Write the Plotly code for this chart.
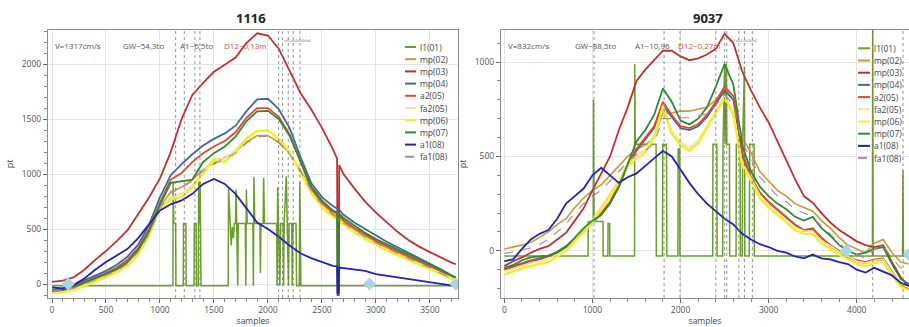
import plotly.graph_objects as go

# ---------------- data: left panel (1116) ----------------
X_L = [0, 100, 200, 300, 400, 500, 600, 700, 800, 900, 1000, 1100, 1200, 1300, 1400, 1500,
       1600, 1700, 1800, 1900, 2000, 2100, 2200, 2300, 2400, 2500, 2600, 2640, 2645, 2655,
       2660, 2700, 2800, 2900, 3000, 3100, 3200, 3300, 3400, 3500, 3600, 3700, 3740]

L_mp02 = [-60, -55, -35, 0, 40, 80, 125, 190, 300, 460, 700, 840, 880, 950, 1040, 1100, 1150, 1200,
          1290, 1350, 1350, 1290, 1190, 1040, 860, 730, 640, 615, 610, 605, 600, 565, 495, 435, 380,
          330, 285, 240, 200, 155, 105, 55, 40]
L_mp03 = [20, 30, 60, 130, 220, 300, 390, 490, 640, 790, 960, 1200, 1500, 1720, 1830, 1930, 1995,
          2060, 2190, 2280, 2260, 2140, 1940, 1740, 1590, 1420, 1230, 1140, -100, -100, 1080, 1000,
          870, 750, 650, 560, 475, 400, 340, 290, 240, 195, 180]
L_mp04 = [-50, -40, -10, 35, 75, 120, 175, 250, 360, 540, 790, 990, 1090, 1180, 1260, 1320, 1370,
          1440, 1570, 1680, 1685, 1590, 1420, 1160, 920, 790, 710, 690, 685, 680, 675, 630, 560, 500,
          440, 385, 335, 285, 240, 190, 135, 80, 60]
L_a205 = [-55, -45, -20, 20, 60, 100, 150, 220, 330, 500, 740, 950, 1010, 1110, 1190, 1250, 1300,
          1380, 1510, 1600, 1600, 1520, 1360, 1110, 870, 740, 660, 640, 635, 630, 625, 580, 510, 450,
          395, 345, 300, 255, 210, 165, 115, 65, 50]
L_fa205 = [-70, -65, -45, -10, 30, 70, 115, 180, 290, 460, 700, 790, 820, 900, 1030, 1140, 1140,
           1220, 1330, 1395, 1400, 1330, 1210, 1030, 840, 710, 620, 600, 595, 590, 585, 550, 480, 420,
           365, 315, 270, 230, 190, 145, 100, 55, 40]
L_mp06 = [-80, -75, -55, -20, 20, 60, 105, 165, 270, 440, 690, 770, 790, 880, 1010, 1130, 1110,
          1200, 1320, 1390, 1395, 1320, 1200, 1020, 830, 700, 610, 590, 585, 580, 575, 540, 470, 410,
          355, 305, 260, 220, 180, 135, 90, 45, 30]
L_mp07 = [-65, -55, -30, 10, 50, 90, 135, 200, 310, 480, 720, 920, 935, 950, 1110, 1190, 1250, 1340,
          1480, 1570, 1575, 1500, 1350, 1120, 890, 760, 670, 650, -80, -80, 640, 600, 530, 465, 410,
          360, 315, 270, 225, 180, 130, 75, 60]
L_a108 = [-30, -40, -10, 50, 130, 200, 260, 320, 420, 540, 670, 725, 760, 820, 910, 955, 910, 820,
          690, 560, 500, 430, 350, 280, 235, 200, 165, 160, -80, -80, 150, 145, 130, 120, 90, 75, 60,
          45, 30, 15, 0, -15, -20]
L_fa108 = [-62, -57, -37, -2, 38, 78, 122, 185, 295, 455, 690, 830, 870, 940, 1030, 1090, 1140, 1190,
           1280, 1340, 1345, 1285, 1180, 1030, 850, 720, 630, 605, 600, 595, 590, 555, 488, 428, 373,
           323, 278, 233, 193, 148, 98, 48, 35]

L1_X_L = [0, 1120, 1122, 1128, 1145, 1148, 1215, 1218, 1240, 1243, 1315, 1318, 1335, 1338, 1355, 1358,
          1365, 1372, 1380, 1632, 1635, 1650, 1660, 1670, 1680, 1690, 1700, 1705, 1712, 1720, 1725,
          1790, 1795, 1800, 1808, 1860, 1865, 1870, 1878, 1925, 1930, 1935, 1955, 1960, 1968, 2080,
          2085, 2090, 2098, 2110, 2118, 2140, 2145, 2150, 2170, 2178, 2190, 2196, 2220, 2225, 2232,
          2260, 2265, 2290, 2295, 2305, 3760]
L1_Y_L = [-15, -15, 930, 550, 550, -15, -15, 550, 550, -15, -15, 550, 550, -15, -15, 930,
          550, 930, -15, -15, 880, 550, 350, 520, 420, 550, 550, 860, 550, -15, 550,
          550, -15, 860, 550, 550, -15, 975, 550, 550, 100, 550, 550, 965, 550, 550,
          -15, 880, 550, -15, 550, 550, -15, 550, 980, 550, -15, 550, 550, -15, 550,
          550, -15, -15, 930, -15, -15]

VLINES_L = [1145, 1225, 1324, 1370, 2099, 2136, 2188, 2234, 2296]
DIAM_X_L = [150, 2940, 3740]
DIAM_Y_L = [0, 0, 0]

# ---------------- data: right panel (9037) ----------------
X_R = [0, 100, 200, 300, 400, 500, 600, 700, 800, 900, 1000, 1100, 1200, 1300, 1400, 1500, 1600,
       1700, 1800, 1900, 2000, 2100, 2200, 2300, 2400, 2500, 2600, 2700, 2800, 2900, 3000, 3100,
       3200, 3300, 3400, 3500, 3600, 3700, 3800, 3900, 4000, 4100, 4200, 4300, 4400, 4500, 4590]

R_mp02 = [10, 20, 30, 45, 70, 100, 140, 170, 230, 280, 320, 350, 400, 450, 500, 540, 560, 600, 730,
          730, 740, 740, 750, 760, 800, 860, 800, 600, 520, 420, 370, 320, 290, 250, 230, 210, 160,
          120, 70, 30, 10, -10, 40, 60, -10, -60, -70]
R_mp03 = [-80, -55, -35, -10, 10, 25, 60, 95, 160, 225, 320, 410, 500, 640, 760, 900, 960, 1010, 1060,
          1060, 1030, 1010, 1020, 1040, 1070, 1150, 1100, 950, 850, 760, 680, 580, 480, 380, 290, 255,
          200, 150, 110, 80, 50, 30, 20, 30, -60, -140, -190]
R_mp04 = [-95, -80, -65, -50, -40, -25, -5, 25, 65, 105, 150, 195, 255, 340, 450, 530, 590, 650, 770,
          710, 650, 640, 660, 710, 780, 850, 800, 510, 385, 305, 255, 215, 175, 135, 105, 115, 65, 25,
          -5, -35, -55, -65, -50, -45, -115, -185, -205]
R_a205 = [-100, -85, -70, -55, -45, -30, -10, 20, 60, 100, 150, 200, 260, 350, 460, 540, 600, 660, 790,
          720, 660, 650, 670, 720, 790, 870, 820, 520, 390, 310, 260, 220, 180, 140, 110, 120, 70, 30,
          0, -30, -50, -60, -45, -40, -110, -180, -200]
R_fa205 = [-110, -95, -80, -65, -55, -45, -15, 15, 65, 115, 165, 235, 305, 375, 465, 505, 535, 615,
           770, 635, 575, 545, 585, 665, 745, 820, 735, 465, 385, 295, 245, 205, 165, 125, 105, 105, 55,
           25, -5, -30, -55, -65, -50, -45, -115, -175, -195]
R_mp06 = [-125, -110, -95, -80, -70, -60, -30, 0, 50, 100, 150, 220, 290, 360, 450, 490, 520, 600, 760,
          620, 560, 530, 570, 650, 730, 810, 720, 450, 370, 280, 230, 190, 150, 110, 90, 90, 40, 10,
          -20, -45, -70, -80, -65, -60, -130, -190, -210]
R_mp07 = [-90, -75, -50, -35, -30, -27, -10, 20, 70, 120, 160, 190, 250, 340, 460, 580, 640, 720, 860,
          790, 690, 670, 700, 760, 870, 990, 880, 560, 420, 340, 290, 250, 220, 180, 160, 180, 120, 80,
          30, 0, -20, -10, 10, 20, -70, -150, -175]
R_a108 = [-55, -45, 10, 60, 90, 110, 170, 250, 290, 330, 400, 440, 400, 360, 390, 410, 450, 490, 530,
          500, 430, 360, 300, 250, 210, 170, 140, 90, 60, 35, 20, 0, -10, -30, -40, -20, -40, -45, -60,
          -70, -100, -115, -90, -110, -130, -170, -185]
R_fa108 = [-15, -5, 5, 15, 35, 60, 100, 140, 200, 250, 290, 320, 370, 420, 470, 510, 530, 570, 700,
           700, 705, 705, 715, 725, 770, 830, 770, 570, 490, 390, 340, 290, 260, 220, 200, 180, 130,
           90, 40, 0, -20, -40, 10, 30, -40, -90, -100]

L1_X_R = [0, 950, 952, 1010, 1012, 1018, 1120, 1122, 1175, 1177, 1195, 1197, 1478, 1480, 1486, 1722,
          1725, 1795, 1798, 1812, 1815, 1840, 1845, 1970, 1973, 1990, 1993, 2365, 2368, 2412, 2415,
          2478, 2482, 2500, 2505, 2520, 2525, 2555, 2558, 2630, 2633, 2676, 2679, 2700, 2705, 2725,
          2730, 2780, 2785, 2835, 2838, 4178, 4181, 4186, 4520, 4525, 4530, 4600]
L1_Y_R = [-27, -27, 155, 155, 800, 155, 155, -27, -27, 145, 145, -27, -27, 990, 565, 565,
          -27, -27, 565, 565, 560, 565, -27, -27, 540, 540, -27, -27, 565, 565, -27,
          -27, 565, 990, 565, 990, 565, 565, -27, -27, 565, 565, -27, -27, 565, 975,
          -27, -27, 565, 565, -27, -27, 1200, -27, -27, 425, -27, -27]

VLINES_R = [1018, 1813, 1994, 2400, 2500, 2525, 2661, 2725, 2815, 4181, 4525]
DIAM_X_R = [3880, 4590]
DIAM_Y_R = [0, -20]

NAMES = ["l1(01)", "mp(02)", "mp(03)", "mp(04)", "a2(05)", "fa2(05)", "mp(06)", "mp(07)", "a1(08)", "fa1(08)"]
COLORS = ["#6c9e2e", "#c99a38", "#c0302e", "#3f6a98", "#e0472f", "#f3e3a0", "#f2ee2a", "#2e8a32", "#2222b4", "#a48ca8"]
WIDTHS = [1.5, 1.6, 1.8, 1.8, 1.8, 1.6, 2.4, 1.8, 1.8, 1.2]

LEFT_SERIES = [(L1_X_L, L1_Y_L), (X_L, L_mp02), (X_L, L_mp03), (X_L, L_mp04), (X_L, L_a205),
               (X_L, L_fa205), (X_L, L_mp06), (X_L, L_mp07), (X_L, L_a108), (X_L, L_fa108)]
RIGHT_SERIES = [(L1_X_R, L1_Y_R), (X_R, R_mp02), (X_R, R_mp03), (X_R, R_mp04), (X_R, R_a205),
                (X_R, R_fa205), (X_R, R_mp06), (X_R, R_mp07), (X_R, R_a108), (X_R, R_fa108)]

W, H = 909, 327
FONT = "Open Sans"

fig = go.Figure()

def add_panel(series, xa, ya):
    for i, (xs, ys) in enumerate(series):
        fig.add_trace(go.Scatter(
            x=xs, y=ys, mode="lines", name=NAMES[i], showlegend=False,
            line=dict(color=COLORS[i], width=WIDTHS[i], dash="dash" if i == 9 else "solid"),
            xaxis=xa, yaxis=ya, hoverinfo="skip"))

add_panel(LEFT_SERIES, "x", "y")
add_panel(RIGHT_SERIES, "x2", "y2")

fig.add_trace(go.Scatter(x=DIAM_X_L, y=DIAM_Y_L, mode="markers", showlegend=False, hoverinfo="skip",
                         marker=dict(symbol="diamond", size=10, color="#a6d6e8"), xaxis="x", yaxis="y"))
fig.add_trace(go.Scatter(x=DIAM_X_R, y=DIAM_Y_R, mode="markers", showlegend=False, hoverinfo="skip",
                         marker=dict(symbol="diamond", size=10, color="#a6d6e8"), xaxis="x2", yaxis="y2"))

shapes = []
for v in VLINES_L:
    shapes.append(dict(type="line", xref="x", yref="y domain", x0=v, x1=v, y0=0, y1=1,
                       line=dict(color="#777", width=0.8, dash="dot")))
for v in VLINES_R:
    shapes.append(dict(type="line", xref="x2", yref="y2 domain", x0=v, x1=v, y0=0, y1=1,
                       line=dict(color="#777", width=0.8, dash="dot")))

annotations = []
def px(x): return x / W
def py(y): return 1 - y / H

def text(x, y, t, size, color, xanchor="center", bold=False):
    annotations.append(dict(x=px(x), y=py(y), xref="paper", yref="paper",
                            text=f"<b>{t}</b>" if bold else t, showarrow=False,
                            xanchor=xanchor, yanchor="middle",
                            font=dict(family=FONT, size=size, color=color)))

# manual legends
def legend(x_line0, x_line1, x_text, y0, step):
    for i, n in enumerate(NAMES):
        yy = y0 + i * step
        shapes.append(dict(type="line", xref="paper", yref="paper", x0=px(x_line0), x1=px(x_line1),
                           y0=py(yy), y1=py(yy),
                           line=dict(color=COLORS[i], width=2, dash="dash" if i == 9 else "solid")))
        text(x_text, yy, n, 8.5, "#444", xanchor="left")

legend(405, 416, 418, 47, 12.2)
legend(858, 870, 872, 48.3, 12.2)

# titles
text(251, 18, "1116", 13, "#222", bold=True)
text(708, 18, "9037", 13, "#222", bold=True)

# info texts
INFO_L = [("V=1317cm/s", 78, "#555"), ("GW~54,3to", 143, "#555"), ("A1~6,5to", 196, "#555"),
          ("D12~0,13m", 245, "#d04a4a")]
INFO_R = [("V=832cm/s", 528, "#555"), ("GW~88,5to", 595, "#555"), ("A1~10,96", 652, "#555"),
          ("D12~0,27m", 699, "#d04a4a")]
for t, xx, c in INFO_L + INFO_R:
    text(xx, 45, t, 8, c)
text(297, 41, "ch1ch2ch3ch4", 4, "#666")
text(743, 41, "ch1ch2 ch3ch4", 4, "#666")

ydom = [py(298), py(30)]
axis_common = dict(showline=True, mirror=True, linecolor="#8c8c8c", linewidth=1.2,
                   showgrid=True, gridcolor="#e4e4e4", gridwidth=1, zeroline=False,
                   ticks="outside", ticklen=4, tickcolor="#666", tickwidth=1,
                   tickfont=dict(family=FONT, size=8.5, color="#555"), automargin=False)
minor_y = dict(dtick=100, ticks="outside", ticklen=2.5, tickcolor="#888", showgrid=False)

fig.update_layout(
    width=W, height=H, margin=dict(l=0, r=0, t=0, b=0),
    paper_bgcolor="white", plot_bgcolor="white", showlegend=False,
    xaxis=dict(domain=[px(48), px(458)], range=[-37, 3760], anchor="y", tick0=0, dtick=500,
               minor=dict(dtick=100, ticks="outside", ticklen=2.5, tickcolor="#888", showgrid=False),
               title=dict(text="samples", font=dict(family=FONT, size=8.5, color="#444"), standoff=3),
               **axis_common),
    yaxis=dict(domain=ydom, range=[-127, 2310], anchor="x", tick0=0, dtick=500, minor=minor_y,
               title=dict(text="pt", font=dict(family=FONT, size=9, color="#444"), standoff=6),
               **axis_common),
    xaxis2=dict(domain=[px(501), 1.0], range=[-38, 4593], anchor="y2", tick0=0, dtick=1000,
                minor=dict(dtick=200, ticks="outside", ticklen=2.5, tickcolor="#888", showgrid=False),
                title=dict(text="samples", font=dict(family=FONT, size=8.5, color="#444"), standoff=3),
                **axis_common),
    yaxis2=dict(domain=ydom, range=[-250, 1170], anchor="x2", tick0=0, dtick=500, minor=minor_y,
                title=dict(text="pt", font=dict(family=FONT, size=9, color="#444"), standoff=6),
                **axis_common),
    shapes=shapes, annotations=annotations,
)

fig.write_html("out.html", config={"displayModeBar": False},
               post_script="document.body.style.margin='0';document.body.style.overflow='hidden';")
